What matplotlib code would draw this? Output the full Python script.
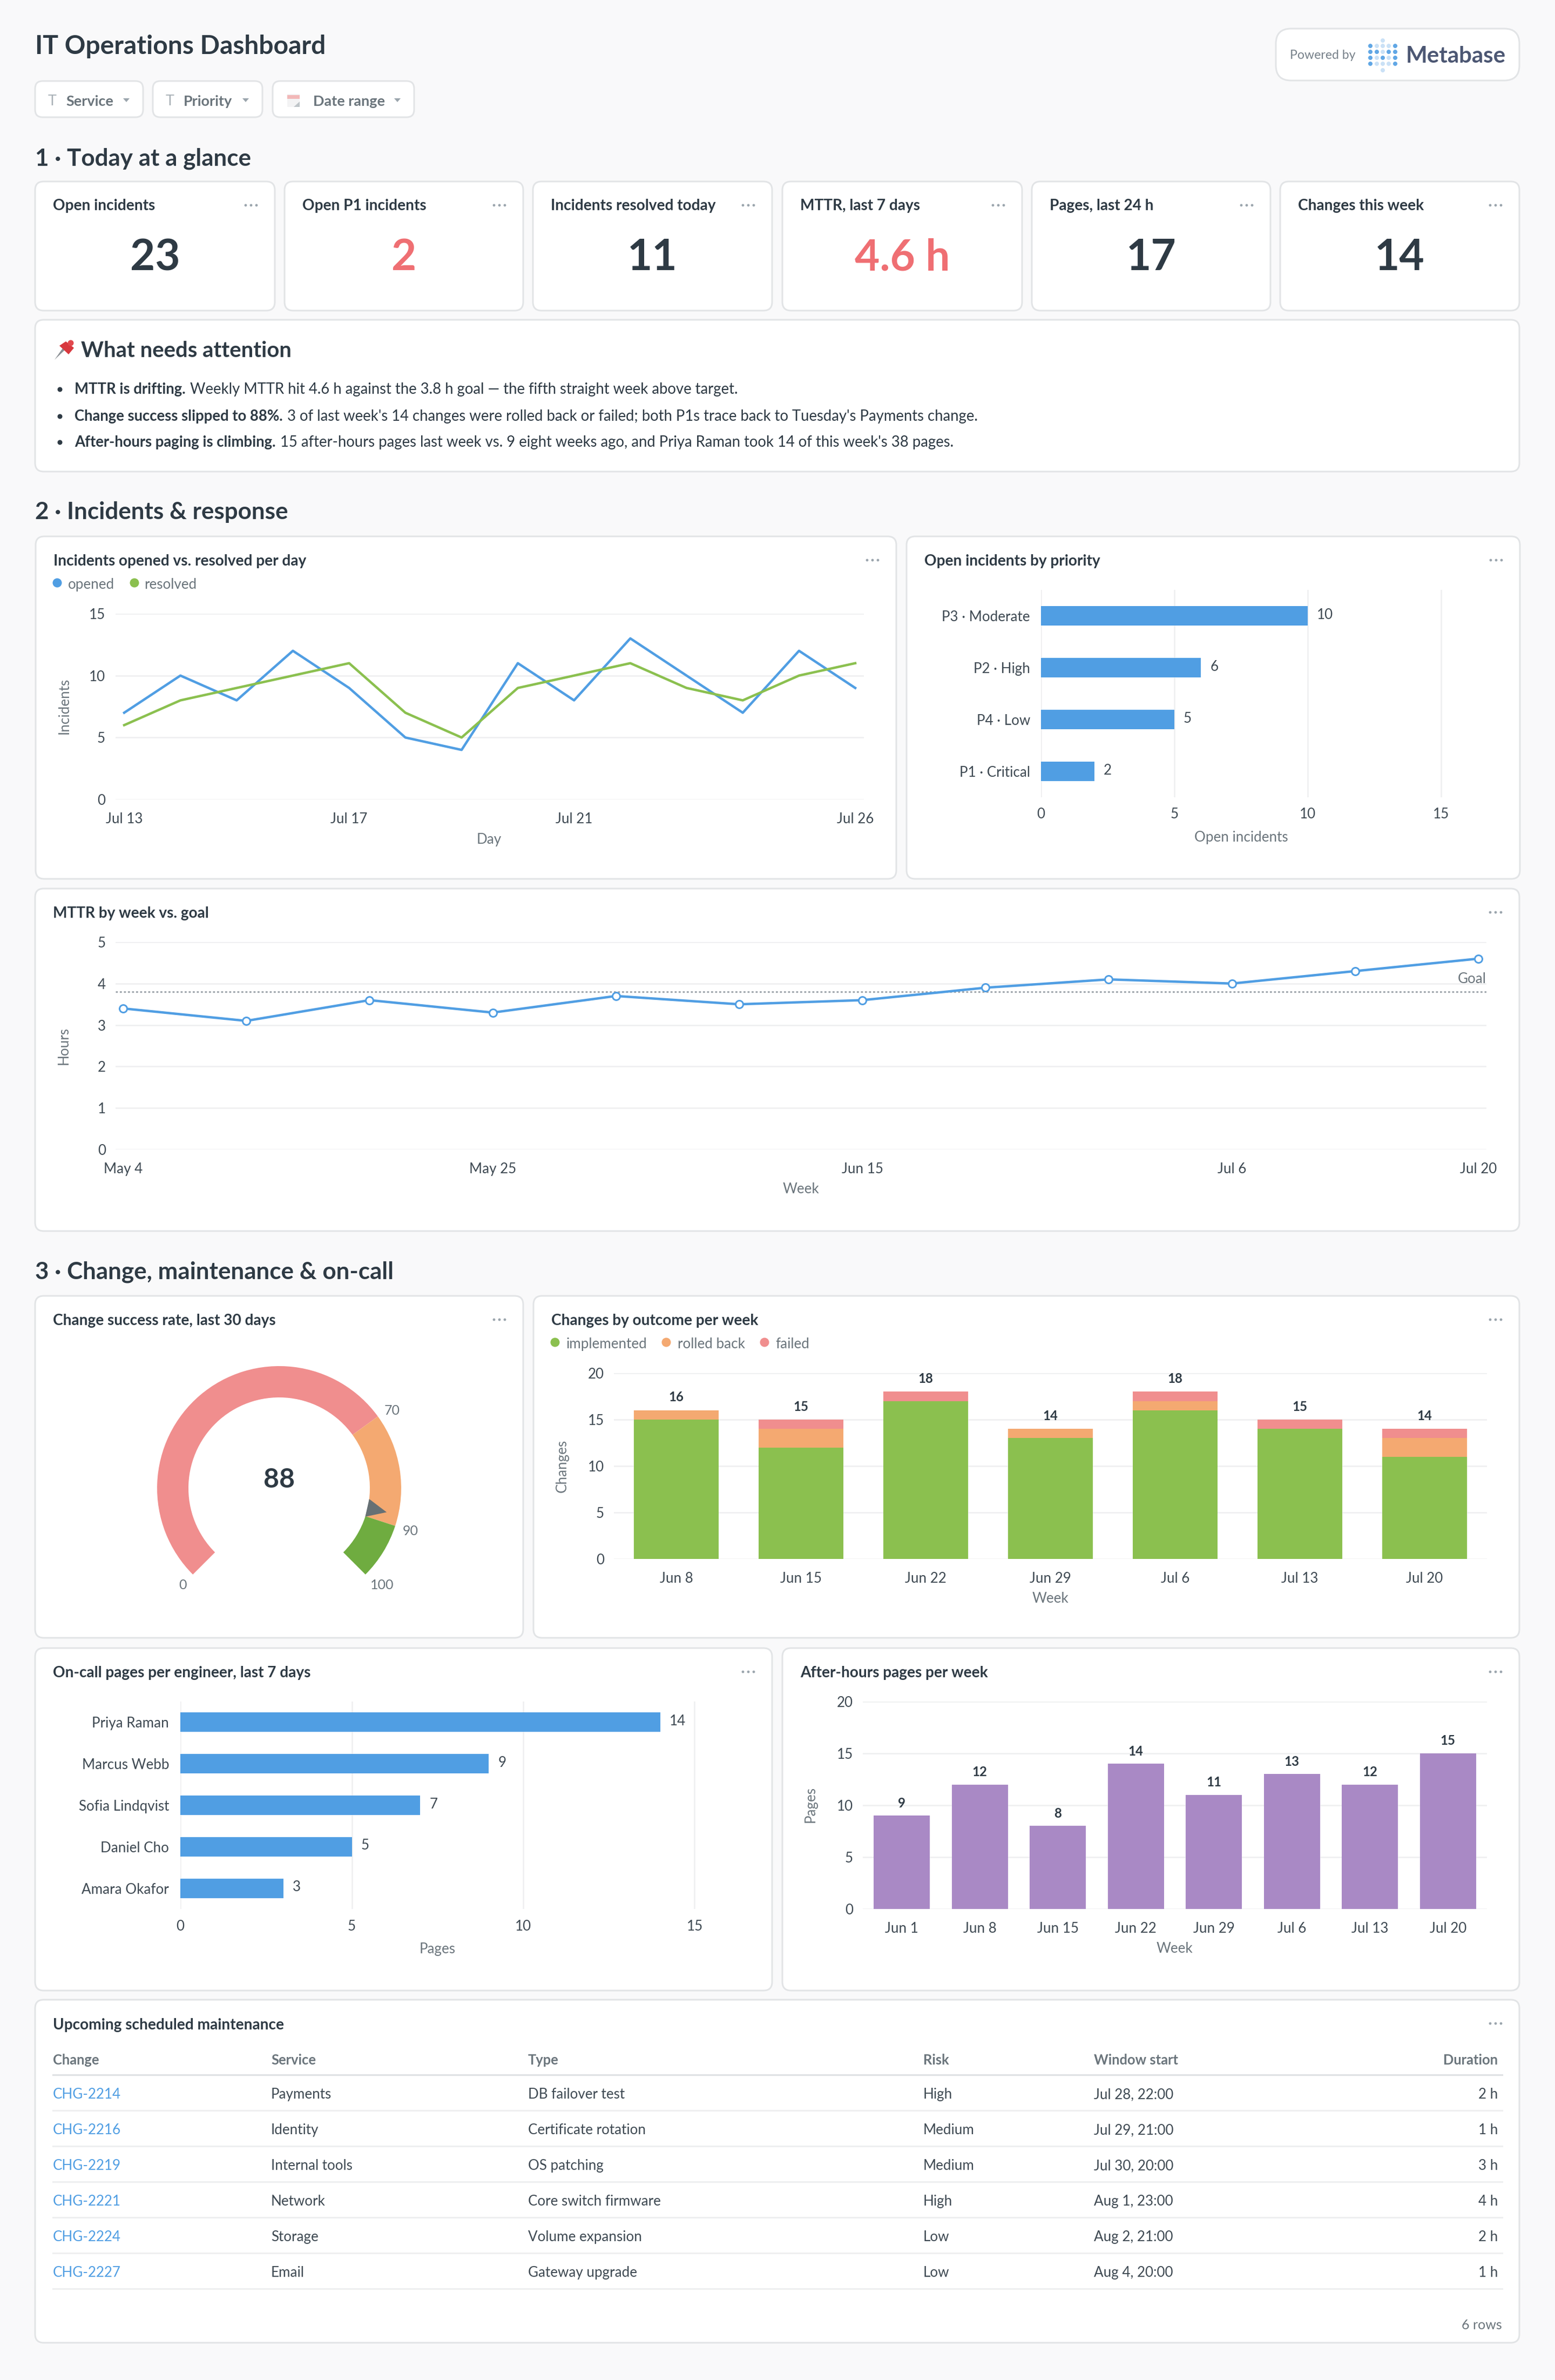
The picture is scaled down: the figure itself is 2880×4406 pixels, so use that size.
import matplotlib
matplotlib.use("Agg")
import matplotlib.pyplot as plt
from matplotlib.patches import FancyBboxPatch, Wedge, Polygon, Circle, Rectangle
import numpy as np

plt.rcParams['font.family'] = ['Lato', 'DejaVu Sans']

W, H, DPI = 2880, 4406, 100
DARK = '#2E3A44'
TICK = '#3F4A53'
GREY = '#6B757C'
BLUE = '#509EE3'
GREEN = '#8BC04F'
ORANGE = '#F4A971'
RED = '#F08E8E'
PURPLE = '#A989C5'
KRED = '#EF6F73'
GRID = '#EEEFF0'
BORDER = '#E2E4E6'
BG = '#F9F9FA'
TICK_PX = 26

# ---- data ----
kpi_titles = ['Open incidents', 'Open P1 incidents', 'Incidents resolved today',
              'MTTR, last 7 days', 'Pages, last 24 h', 'Changes this week']
kpi_values = ['23', '2', '11', '4.6 h', '17', '14']
kpi_alert = [False, True, False, True, False, False]

filters = ['Service', 'Priority', 'Date range']

attention = [
    ('MTTR is drifting.', ' Weekly MTTR hit 4.6 h against the 3.8 h goal \u2014 the fifth straight week above target.'),
    ('Change success slipped to 88%.', " 3 of last week's 14 changes were rolled back or failed; both P1s trace back to Tuesday's Payments change."),
    ('After-hours paging is climbing.', " 15 after-hours pages last week vs. 9 eight weeks ago, and Priya Raman took 14 of this week's 38 pages."),
]

days_idx = list(range(14))
opened = [7, 10, 8, 12, 9, 5, 4, 11, 8, 13, 10, 7, 12, 9]
resolved = [6, 8, 9, 10, 11, 7, 5, 9, 10, 11, 9, 8, 10, 11]
day_tick_pos = [0, 4, 8, 13]
day_tick_lab = ['Jul 13', 'Jul 17', 'Jul 21', 'Jul 26']

priorities = ['P3 \u00b7 Moderate', 'P2 \u00b7 High', 'P4 \u00b7 Low', 'P1 \u00b7 Critical']
priority_counts = [10, 6, 5, 2]

mttr = [3.4, 3.1, 3.6, 3.3, 3.7, 3.5, 3.6, 3.9, 4.1, 4.0, 4.3, 4.6]
mttr_goal = 3.8
mttr_tick_pos = [0, 3, 6, 9, 11]
mttr_tick_lab = ['May 4', 'May 25', 'Jun 15', 'Jul 6', 'Jul 20']

gauge_value = 88
gauge_stops = [0, 70, 90, 100]
gauge_colors = ['#F08E8E', '#F4A971', '#6FAC40']

change_weeks = ['Jun 8', 'Jun 15', 'Jun 22', 'Jun 29', 'Jul 6', 'Jul 13', 'Jul 20']
implemented = [15, 12, 17, 13, 16, 14, 11]
rolled_back = [1, 2, 0, 1, 1, 0, 2]
failed = [0, 1, 1, 0, 1, 1, 1]

engineers = ['Priya Raman', 'Marcus Webb', 'Sofia Lindqvist', 'Daniel Cho', 'Amara Okafor']
engineer_pages = [14, 9, 7, 5, 3]

ah_weeks = ['Jun 1', 'Jun 8', 'Jun 15', 'Jun 22', 'Jun 29', 'Jul 6', 'Jul 13', 'Jul 20']
ah_pages = [9, 12, 8, 14, 11, 13, 12, 15]

tbl_headers = ['Change', 'Service', 'Type', 'Risk', 'Window start', 'Duration']
tbl_change = ['CHG-2214', 'CHG-2216', 'CHG-2219', 'CHG-2221', 'CHG-2224', 'CHG-2227']
tbl_service = ['Payments', 'Identity', 'Internal tools', 'Network', 'Storage', 'Email']
tbl_type = ['DB failover test', 'Certificate rotation', 'OS patching', 'Core switch firmware', 'Volume expansion', 'Gateway upgrade']
tbl_risk = ['High', 'Medium', 'Medium', 'High', 'Low', 'Low']
tbl_start = ['Jul 28, 22:00', 'Jul 29, 21:00', 'Jul 30, 20:00', 'Aug 1, 23:00', 'Aug 2, 21:00', 'Aug 4, 20:00']
tbl_dur = ['2 h', '1 h', '3 h', '4 h', '2 h', '1 h']


def P(px):
    return px * 72 / DPI


fig = plt.figure(figsize=(W / DPI, H / DPI), dpi=DPI, facecolor=BG)
page = fig.add_axes([0, 0, 1, 1], zorder=0)
page.set_xlim(0, W)
page.set_ylim(H, 0)
page.axis('off')


def T(x, y, s, size=24, color=DARK, weight='normal', ha='left', va='center', **kw):
    return page.text(x, y + 2.5, s, fontsize=P(size), color=color, fontweight=weight, ha=ha, va=va, **kw)


def card(x0, y0, x1, y1, menu=True, title=None, r=16):
    page.add_patch(FancyBboxPatch((x0 + r, y0 + r), x1 - x0 - 2 * r, y1 - y0 - 2 * r,
                                  boxstyle=f'round,pad={r},rounding_size={r}',
                                  fc='white', ec=BORDER, lw=P(3), zorder=1))
    if title:
        T(x0 + 33, y0 + 44, title, size=28, weight='bold', zorder=3)
    if menu:
        for dx in (-10, 0, 10):
            page.add_patch(Circle((x1 - 44 + dx, y0 + 44), 2.4, fc='#9BA5AD', ec='none', zorder=3))


def chart_ax(x0, y0, x1, y1):
    ax = fig.add_axes([x0 / W, 1 - y1 / H, (x1 - x0) / W, (y1 - y0) / H], zorder=2)
    ax.patch.set_alpha(0)
    for s in ax.spines.values():
        s.set_visible(False)
    ax.tick_params(length=0, labelsize=P(TICK_PX), labelcolor=TICK)
    ax.set_axisbelow(True)
    return ax


def xlab(ax, s, px_x, px_y, box):
    x0, y0, x1, y1 = box
    ax.set_xlabel(s, fontsize=P(TICK_PX), color=GREY, va='center', ha='center')
    ax.xaxis.set_label_coords((px_x - x0) / (x1 - x0), (y1 - px_y - 2.5) / (y1 - y0))


def ylab(ax, s, px_x, px_y, box):
    x0, y0, x1, y1 = box
    ax.set_ylabel(s, fontsize=P(TICK_PX), color=GREY, va='center', ha='center', rotation=90)
    ax.yaxis.set_label_coords((px_x - x0) / (x1 - x0), (y1 - px_y) / (y1 - y0))


def legend_row(items, y):
    for dot_x, text_x, label, col in items:
        page.add_patch(Circle((dot_x, y - 1), 8.5, fc=col, ec='none', zorder=3))
        T(text_x, y, label, size=TICK_PX, color=GREY, zorder=3)


# ---- header ----
T(65, 83, 'IT Operations Dashboard', size=48, weight='bold')
fbox = [(65, 265), (283, 486), (505, 767)]
ftext = [122, 340, 580]
for (a, b), tx, lab, i in zip(fbox, ftext, filters, range(3)):
    page.add_patch(FancyBboxPatch((a + 14, 164), b - a - 28, 39, boxstyle='round,pad=14,rounding_size=14',
                                  fc='white', ec=BORDER, lw=P(3), zorder=1))
    T(tx, 185, lab, size=27, color=GREY, weight='bold', zorder=3)
    page.add_patch(Polygon([[b - 37, 182], [b - 25, 182], [b - 31, 189]], fc='#9BA5AD', ec='none', zorder=3))
    if i < 2:
        T(a + 32, 185, 'T', size=27, color='#A9B1B7', ha='center', zorder=3)
page.add_patch(Rectangle((532, 174), 23, 24, fc='#F3F3F4', ec='none', zorder=3))
page.add_patch(Rectangle((532, 176), 23, 7, fc='#F2B8B8', ec='none', zorder=3))
page.add_patch(Polygon([[544, 198], [555, 188], [555, 198]], fc='#BFC5C9', ec='none', zorder=3))

# Metabase badge
page.add_patch(FancyBboxPatch((2363 + 28, 53 + 28), 451 - 56, 96 - 56, boxstyle='round,pad=28,rounding_size=28',
                              fc='white', ec=BORDER, lw=P(3), zorder=1))
T(2389, 100, 'Powered by', size=23, color='#77818A', zorder=3)
T(2604, 101, 'Metabase', size=42, color='#4C5773', weight='bold', zorder=3)
logo_cols = [2538, 2550, 2561, 2572, 2584]
logo_rows = [85, 96, 107, 118]
logo_alpha = [[.9, .3, .3, .3, .9], [.9, .9, .3, .9, .9], [.9, .3, .9, .3, .9], [.9, .3, .3, .3, .9]]
for ry, al in zip(logo_rows, logo_alpha):
    for cx, a in zip(logo_cols, al):
        page.add_patch(Circle((cx, ry), 4, fc=BLUE, alpha=a, ec='none', zorder=3))
for ry in (75, 130):
    page.add_patch(Circle((2561, ry), 4, fc=BLUE, alpha=.3, ec='none', zorder=3))

# ---- section headings ----
T(65, 291, '1 \u00b7 Today at a glance', size=44, weight='bold')
T(65, 946, '2 \u00b7 Incidents & response', size=44, weight='bold')
T(65, 2352, '3 \u00b7 Change, maintenance & on-call', size=44, weight='bold')

# ---- KPI cards ----
kpi_x = [(65, 509), (527, 969), (987, 1430), (1449, 1893), (1911, 2353), (2371, 2814)]
for (a, b), t, v, al in zip(kpi_x, kpi_titles, kpi_values, kpi_alert):
    card(a, 336, b, 575)
    T(a + 33, 378, t, size=28, weight='bold', zorder=3)
    T((a + b) / 2, 475, v, size=80, weight='bold', ha='center', color=KRED if al else DARK, zorder=3)

# ---- attention ----
card(65, 592, 2814, 873, menu=False)
page.add_patch(Polygon([[101, 666], [118, 642], [122, 646]], fc='#8A8F94', ec='none', zorder=3))
page.add_patch(Polygon([[110, 640], [122, 632], [137, 644], [127, 656]], fc='#D8383E', ec='none', zorder=3))
page.add_patch(Circle((131, 635), 5.5, fc='#E2484D', ec='none', zorder=3))
T(150, 647, 'What needs attention', size=40, weight='bold', zorder=3)
fig.canvas.draw()
rend = fig.canvas.get_renderer()
for y, (b, r) in zip((719, 769, 817), attention):
    page.add_patch(Circle((111, y + 2), 4.5, fc=DARK, ec='none', zorder=3))
    t1 = T(138, y, b, size=27.5, weight='bold', zorder=3)
    bb = t1.get_window_extent(rend)
    T(bb.x1 + 1, y, r, size=27.5, zorder=3)

# ---- incidents line ----
card(66, 993, 1660, 1627, title='Incidents opened vs. resolved per day')
legend_row([(106, 126, 'opened', BLUE), (249, 267, 'resolved', GREEN)], 1080)
box = (214, 1136, 1600, 1480)
ax = chart_ax(*box)
m0 = (230 - 214) / (1584 - 230) * 13
m1 = (1600 - 1584) / (1584 - 230) * 13
ax.plot(days_idx, opened, color=BLUE, lw=P(4.5), solid_joinstyle='round', zorder=3, clip_on=False)
ax.plot(days_idx, resolved, color=GREEN, lw=P(4.5), solid_joinstyle='round', zorder=4, clip_on=False)
ax.set_xlim(-m0, 13 + m1)
ax.set_ylim(0, 15)
ax.set_yticks([0, 5, 10, 15])
ax.set_xticks(day_tick_pos)
ax.set_xticklabels(day_tick_lab)
ax.yaxis.grid(True, color=GRID, lw=P(2.5))
ax.tick_params(axis='x', pad=P(24))
ax.tick_params(axis='y', pad=P(19))
xlab(ax, 'Day', 906, 1552, box)
ylab(ax, 'Incidents', 119, 1307, box)

# ---- priority bars ----
card(1679, 993, 2815, 1627, title='Open incidents by priority')
box = (1928, 1092, 2750, 1476)
ax = chart_ax(*box)
ypos = np.arange(len(priorities))
ax.barh(ypos, priority_counts, height=0.375, color=BLUE, zorder=3)
for yy, v in zip(ypos, priority_counts):
    ax.annotate(str(v), (v, yy), xytext=(P(17), P(2)), textcoords='offset points',
                va='center', ha='left', fontsize=P(TICK_PX), color=TICK)
ax.set_xlim(0, (2750 - 1928) / 49.4)
ax.set_ylim(len(priorities) - 0.5, -0.5)
ax.set_yticks(ypos)
ax.set_yticklabels(priorities)
ax.set_xticks([0, 5, 10, 15])
ax.xaxis.grid(True, color=GRID, lw=P(2.5))
ax.tick_params(axis='x', pad=P(19))
ax.tick_params(axis='y', pad=P(20))
xlab(ax, 'Open incidents', 2299, 1548, box)

# ---- MTTR ----
card(65, 1645, 2814, 2279, title='MTTR by week vs. goal')
box = (214, 1744, 2753, 2128)
ax = chart_ax(*box)
wk = np.arange(len(mttr))
m0 = (228 - 214) / (2738 - 228) * 11
m1 = (2753 - 2738) / (2738 - 228) * 11
ax.plot(wk, mttr, color=BLUE, lw=P(4.5), marker='o', ms=P(14), mfc='white', mec=BLUE, mew=P(3), zorder=4, clip_on=False)
ax.axhline(mttr_goal, color='#8F979E', lw=P(2.5), ls=(0, (1.5, 1.5)), zorder=3)
ax.annotate('Goal', (1, mttr_goal), xycoords=('axes fraction', 'data'), xytext=(0, P(24)), textcoords='offset points',
            ha='right', va='center', fontsize=P(TICK_PX), color=GREY)
ax.set_xlim(-m0, 11 + m1)
ax.set_ylim(0, 5)
ax.set_yticks(range(6))
ax.set_xticks(mttr_tick_pos)
ax.set_xticklabels(mttr_tick_lab)
ax.yaxis.grid(True, color=GRID, lw=P(2.5))
ax.tick_params(axis='x', pad=P(24))
ax.tick_params(axis='y', pad=P(18))
xlab(ax, 'Week', 1483, 2199, box)
ylab(ax, 'Hours', 118, 1936, box)

# ---- gauge ----
card(65, 2399, 969, 3032, title='Change success rate, last 30 days')
R, RIN = 226, 168
cx, cy = 517, 2755
gx0, gx1, gy0, gy1 = cx - 270, cx + 270, cy - 270, cy + 270
ax = chart_ax(gx0, gy0, gx1, gy1)
ax.set_xlim(-270, 270)
ax.set_ylim(-270, 270)
ax.set_xticks([])
ax.set_yticks([])


def ang(v):
    return 225 - 2.7 * v


for i, col in enumerate(gauge_colors):
    a0, a1 = gauge_stops[i], gauge_stops[i + 1]
    ax.add_patch(Wedge((0, 0), R, ang(a1), ang(a0), width=R - RIN, fc=col, ec='none'))
th = np.deg2rad(ang(gauge_value))
hw = np.deg2rad(5.75)
ax.add_patch(Polygon([[RIN * np.cos(th + hw), RIN * np.sin(th + hw)],
                      [204 * np.cos(th), 204 * np.sin(th)],
                      [RIN * np.cos(th - hw), RIN * np.sin(th - hw)]], fc='#667074', ec='none', zorder=3))
T(cx, 2737, str(gauge_value), size=50, weight='bold', ha='center', zorder=4)
for s, px, py in zip(gauge_stops[::-1], (708, 760, 726, 339), (2932, 2832, 2609, 2932)):
    T(px, py, str(s), size=25, color=GREY, ha='center', zorder=4)

# ---- changes stacked ----
card(988, 2399, 2814, 3032, title='Changes by outcome per week')
legend_row([(1028, 1049, 'implemented', GREEN), (1234, 1255, 'rolled back', ORANGE), (1416, 1436, 'failed', RED)], 2486)
box = (1137, 2542, 2754, 2886)
ax = chart_ax(*box)
xs = np.arange(len(change_weeks))
imp, rb, fl = np.array(implemented), np.array(rolled_back), np.array(failed)
ax.bar(xs, imp, width=0.68, color=GREEN, zorder=3)
ax.bar(xs, rb, width=0.68, bottom=imp, color=ORANGE, zorder=3)
ax.bar(xs, fl, width=0.68, bottom=imp + rb, color=RED, zorder=3)
for x, tot in zip(xs, imp + rb + fl):
    ax.annotate(str(tot), (x, tot), xytext=(0, P(24)), textcoords='offset points',
                ha='center', va='center', fontsize=P(24), color=DARK, fontweight='bold')
ax.set_xlim(-0.5, len(xs) - 0.5)
ax.set_ylim(0, 20)
ax.set_yticks([0, 5, 10, 15, 20])
ax.set_xticks(xs)
ax.set_xticklabels(change_weeks)
ax.yaxis.grid(True, color=GRID, lw=P(2.5))
ax.tick_params(axis='x', pad=P(24))
ax.tick_params(axis='y', pad=P(18))
xlab(ax, 'Week', 1945, 2957, box)
ylab(ax, 'Changes', 1041, 2714, box)

# ---- on-call ----
card(65, 3051, 1430, 3685, title='On-call pages per engineer, last 7 days')
box = (334, 3150, 1390, 3534)
ax = chart_ax(*box)
ypos = np.arange(len(engineers))
ax.barh(ypos, engineer_pages, height=0.469, color=BLUE, zorder=3)
for yy, v in zip(ypos, engineer_pages):
    ax.annotate(str(v), (v, yy), xytext=(P(17), P(2)), textcoords='offset points',
                va='center', ha='left', fontsize=P(TICK_PX), color=TICK)
ax.set_xlim(0, (1390 - 334) / 63.5)
ax.set_ylim(len(engineers) - 0.5, -0.5)
ax.set_yticks(ypos)
ax.set_yticklabels(engineers)
ax.set_xticks([0, 5, 10, 15])
ax.xaxis.grid(True, color=GRID, lw=P(2.5))
ax.tick_params(axis='x', pad=P(20))
ax.tick_params(axis='y', pad=P(21))
xlab(ax, 'Pages', 810, 3606, box)

# ---- after hours ----
card(1449, 3051, 2814, 3685, title='After-hours pages per week')
box = (1598, 3150, 2754, 3534)
ax = chart_ax(*box)
xs = np.arange(len(ah_weeks))
ax.bar(xs, ah_pages, width=0.72, color=PURPLE, zorder=3)
for x, v in zip(xs, ah_pages):
    ax.annotate(str(v), (x, v), xytext=(0, P(23)), textcoords='offset points',
                ha='center', va='center', fontsize=P(24), color=DARK, fontweight='bold')
ax.set_xlim(-0.5, len(xs) - 0.5)
ax.set_ylim(0, 20)
ax.set_yticks([0, 5, 10, 15, 20])
ax.set_xticks(xs)
ax.set_xticklabels(ah_weeks)
ax.yaxis.grid(True, color=GRID, lw=P(2.5))
ax.tick_params(axis='x', pad=P(24))
ax.tick_params(axis='y', pad=P(18))
xlab(ax, 'Week', 2175, 3605, box)
ylab(ax, 'Pages', 1501, 3341, box)

# ---- table ----
card(65, 3702, 2814, 4337, title='Upcoming scheduled maintenance')
col_x = [98, 502, 978, 1710, 2026, 2774]
for i, (h, x) in enumerate(zip(tbl_headers, col_x)):
    T(x, 3812, h, size=25.5, color=GREY, weight='bold', ha='right' if i == 5 else 'left', zorder=3)
page.plot([98, 2782], [3841, 3841], color='#DFE1E3', lw=P(3), zorder=3)
row_y = [3875, 3941, 4007, 4073, 4139, 4205]
rule_y = [3907, 3973, 4039, 4105, 4171, 4237]
for i, (y, ry) in enumerate(zip(row_y, rule_y)):
    T(col_x[0], y, tbl_change[i], size=26, color=BLUE, zorder=3)
    T(col_x[1], y, tbl_service[i], size=26, color=TICK, zorder=3)
    T(col_x[2], y, tbl_type[i], size=26, color=TICK, zorder=3)
    T(col_x[3], y, tbl_risk[i], size=26, color=TICK, zorder=3)
    T(col_x[4], y, tbl_start[i], size=26, color=TICK, zorder=3)
    T(col_x[5], y, tbl_dur[i], size=26, color=TICK, ha='right', zorder=3)
    page.plot([98, 2782], [ry, ry], color=GRID, lw=P(3), zorder=3)
T(2782, 4302, '6 rows', size=25, color=GREY, ha='right', zorder=3)
page.set_xlim(0, W)
page.set_ylim(H, 0)

fig.savefig('out.png', dpi=DPI, facecolor=BG)
